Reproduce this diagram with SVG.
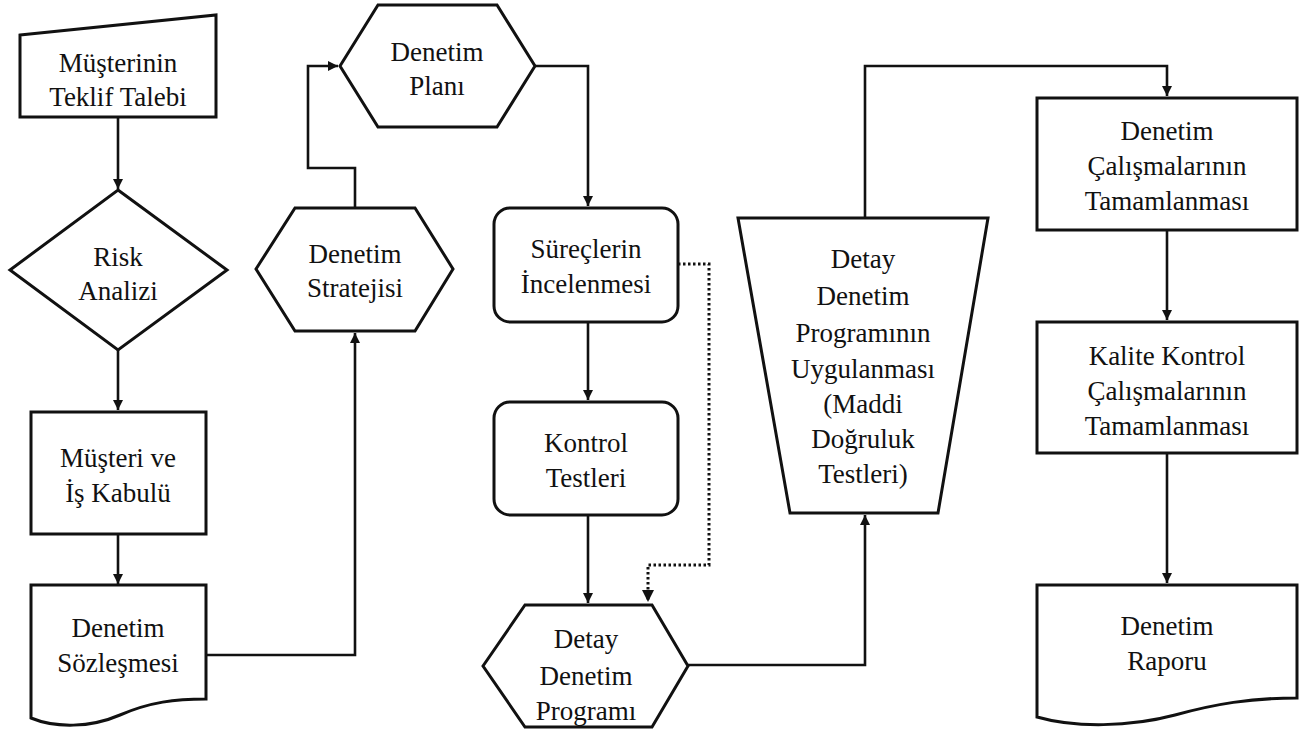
<svg xmlns="http://www.w3.org/2000/svg" width="1314" height="733" viewBox="0 0 1314 733">
<defs>
<style>
.s{fill:#fff;stroke:#111;stroke-width:3;stroke-linejoin:miter}
.t{font-size:27px;fill:#111;text-anchor:middle}
.c{fill:none;stroke:#111;stroke-width:2.6}
.d{fill:none;stroke:#111;stroke-width:3;stroke-dasharray:2.5 2.5}
</style>
<marker id="a" viewBox="0 0 10 10" refX="10" refY="5" markerWidth="4" markerHeight="4" orient="auto" markerUnits="strokeWidth">
<path d="M0,0 L10,5 L0,10 Z" fill="#111"/>
</marker>
</defs>
<rect width="1314" height="733" fill="#fff"/>
<g id="connectors">
<path class="c" d="M118,117 V189" marker-end="url(#a)"/>
<path class="c" d="M118,350 V410" marker-end="url(#a)"/>
<path class="c" d="M118,534 V584" marker-end="url(#a)"/>
<path class="c" d="M206,655 H355 V333" marker-end="url(#a)"/>
<path class="c" d="M355,208 V168 H308 V66 H338" marker-end="url(#a)"/>
<path class="c" d="M535,66 H588 V206" marker-end="url(#a)"/>
<path class="c" d="M588,322 V400" marker-end="url(#a)"/>
<path class="c" d="M588,515 V603" marker-end="url(#a)"/>
<path class="d" d="M678,264 H709 V565 H648 V602" marker-end="url(#a)"/>
<path class="c" d="M688,665 H865 V515" marker-end="url(#a)"/>
<path class="c" d="M865,218 V66 H1167 V96" marker-end="url(#a)"/>
<path class="c" d="M1167,230 V320" marker-end="url(#a)"/>
<path class="c" d="M1167,453 V583" marker-end="url(#a)"/>
</g>
<g font-family="Liberation Serif, Times New Roman, serif">
<g id="n1">
<path class="s" d="M20,35 L216,15 V117 H20 Z"/>
<text class="t" x="118" y="72">Müşterinin</text>
<text class="t" x="118" y="106">Teklif Talebi</text>
</g>
<g id="n2">
<path class="s" d="M118,190 L227,270 L118,350 L10,270 Z"/>
<text class="t" x="118" y="266">Risk</text>
<text class="t" x="118" y="300">Analizi</text>
</g>
<g id="n3">
<rect class="s" x="31" y="412" width="175" height="122"/>
<text class="t" x="118" y="467">Müşteri ve</text>
<text class="t" x="118" y="502">İş Kabulü</text>
</g>
<g id="n4">
<path class="s" d="M31,585 H206 V699 C175,699 150,702 120,715 C90,728 55,728 31,718 Z"/>
<text class="t" x="118" y="637">Denetim</text>
<text class="t" x="118" y="672">Sözleşmesi</text>
</g>
<g id="n5">
<path class="s" d="M256,269 L295,208 H415 L453,269 L415,331 H295 Z"/>
<text class="t" x="355" y="263">Denetim</text>
<text class="t" x="355" y="297">Stratejisi</text>
</g>
<g id="n6">
<path class="s" d="M340,66 L378,5 H497 L535,66 L497,127 H378 Z"/>
<text class="t" x="437" y="61">Denetim</text>
<text class="t" x="437" y="95">Planı</text>
</g>
<g id="n7">
<rect class="s" x="494" y="208" width="184" height="114" rx="16"/>
<text class="t" x="586" y="258">Süreçlerin</text>
<text class="t" x="586" y="293">İncelenmesi</text>
</g>
<g id="n8">
<rect class="s" x="494" y="402" width="184" height="113" rx="16"/>
<text class="t" x="586" y="452">Kontrol</text>
<text class="t" x="586" y="487">Testleri</text>
</g>
<g id="n9">
<path class="s" d="M483,666 L525,605 H652 L688,666 L652,727 H525 Z"/>
<text class="t" x="586" y="648">Detay</text>
<text class="t" x="586" y="685">Denetim</text>
<text class="t" x="586" y="720">Programı</text>
</g>
<g id="n10">
<path class="s" d="M738,218 H988 L938,513 H790 Z"/>
<text class="t" x="863" y="268">Detay</text>
<text class="t" x="863" y="305">Denetim</text>
<text class="t" x="863" y="342">Programının</text>
<text class="t" x="863" y="378">Uygulanması</text>
<text class="t" x="863" y="413">(Maddi</text>
<text class="t" x="863" y="448">Doğruluk</text>
<text class="t" x="863" y="483">Testleri)</text>
</g>
<g id="n11">
<rect class="s" x="1037" y="98" width="260" height="132"/>
<text class="t" x="1167" y="140">Denetim</text>
<text class="t" x="1167" y="175">Çalışmalarının</text>
<text class="t" x="1167" y="210">Tamamlanması</text>
</g>
<g id="n12">
<rect class="s" x="1037" y="322" width="260" height="131"/>
<text class="t" x="1167" y="365">Kalite Kontrol</text>
<text class="t" x="1167" y="400">Çalışmalarının</text>
<text class="t" x="1167" y="435">Tamamlanması</text>
</g>
<g id="n13">
<path class="s" d="M1037,585 H1297 V698 C1250,698 1215,704 1175,715 C1130,727 1075,728 1037,717 Z"/>
<text class="t" x="1167" y="635">Denetim</text>
<text class="t" x="1167" y="670">Raporu</text>
</g>
</g>
</svg>
